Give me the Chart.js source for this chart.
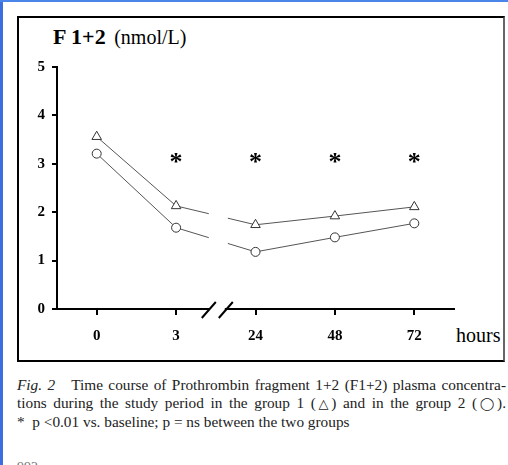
<!DOCTYPE html>
<html>
<head>
<meta charset="utf-8">
<script src="https://cdn.jsdelivr.net/npm/chart.js@4"></script>
<style>
  body { margin: 0; width: 508px; height: 465px; overflow: hidden; background: #fff; position: relative; font-family: "Liberation Serif", serif; }
  #blueLeft { position: absolute; left: 0; top: 0; width: 3px; height: 465px; background: #3b6fe0; }
  #blueTop { position: absolute; left: 0; top: 0; width: 508px; height: 2px; background: #4a86ea; }
  #box { position: absolute; left: 17px; top: 16px; width: 484px; height: 342px; border: 2px solid #000; border-right-color: #666; }
  #title { position: absolute; left: 53px; top: 26px; font-size: 22px; line-height: 22px; font-weight: bold; white-space: nowrap; }
  #title span { font-size: 20px; font-weight: normal; margin-left: 3px; }
  #hours { position: absolute; left: 456px; top: 325px; font-size: 20px; line-height: 20px; }
  #caption { position: absolute; left: 17px; top: 376px; width: 489px; font-size: 15.3px; line-height: 18px; color: #222; }
  #caption .j { text-align: justify; text-align-last: justify; white-space: nowrap; }
  #caption .sym { font-family: "DejaVu Sans"; font-size: 13px; }
  #pageNo { position: absolute; left: 17px; top: 461px; font-size: 14px; line-height: 14px; color: #777; }
  canvas { position: absolute; left: 0; top: 0; }
</style>
</head>
<body>
<div id="blueLeft"></div>
<div id="blueTop"></div>
<div id="box"></div>
<div id="title">F 1+2 <span>(nmol/L)</span></div>
<div id="hours">hours</div>
<div id="caption">
  <div class="j"><i>Fig. 2</i>&nbsp;&nbsp; Time course of Prothrombin fragment 1+2 (F1+2) plasma concentra-</div>
  <div class="j">tions during the study period in the group 1 (<span class="sym">△</span>) and in the group 2 (<span class="sym">◯</span>).</div>
  <div>* &nbsp;p &lt;0.01 vs. baseline; p = ns between the two groups</div>
</div>
<div id="pageNo">992</div>
<canvas id="graf" width="508" height="465"></canvas>
<script>
  // värden
  const hours = ['0', '3', '24', '48', '72'];
  const group1 = [3.56, 2.13, 1.74, 1.92, 2.11];   // trianglar
  const group2 = [3.21, 1.68, 1.18, 1.48, 1.77];   // cirklar
  const signif = ['', '*', '*', '*', '*'];
  const signifLevel = 3.12;
  const yMin = 0, yMax = 5, yStep = 1;

  // bruten axel mellan 3 och 24 h, plus stjärnor
  const extras = {
    id: 'extras',
    afterDatasetsDraw(chart) {
      const ctx = chart.ctx;
      const x = chart.scales.x, y = chart.scales.y;
      const area = chart.chartArea;
      const mid = (x.getPixelForValue(1) + x.getPixelForValue(2)) / 2;

      ctx.save();
      ctx.fillStyle = '#fff';
      ctx.fillRect(mid - 7, area.top, 19, area.bottom - area.top - 3);
      ctx.fillRect(mid - 6, area.bottom - 3, 15, 6);

      ctx.strokeStyle = '#000';
      ctx.lineWidth = 2;
      [mid - 7, mid + 10].forEach(cx => {
        ctx.beginPath();
        ctx.moveTo(cx - 7, area.bottom + 9);
        ctx.lineTo(cx + 7, area.bottom - 7);
        ctx.stroke();
      });

      ctx.fillStyle = '#000';
      ctx.font = 'bold 26px "Liberation Serif"';
      ctx.textAlign = 'center';
      ctx.textBaseline = 'middle';
      signif.forEach((s, i) => {
        if (!s) return;
        ctx.fillText(s, x.getPixelForValue(i), y.getPixelForValue(signifLevel) + 5);
      });
      ctx.restore();
    }
  };

  const tickFont = { family: 'Liberation Serif', size: 15, weight: 'bold' };

  new Chart(document.getElementById('graf').getContext('2d'), {
    type: 'line',
    data: {
      labels: hours,
      datasets: [{
        label: 'Grupp 1',
        data: group1,
        borderColor: '#555',
        borderWidth: 1,
        pointStyle: 'triangle',
        pointRadius: 5.5,
        pointBackgroundColor: '#fff',
        pointBorderColor: '#333',
        pointBorderWidth: 1
      }, {
        label: 'Grupp 2',
        data: group2,
        borderColor: '#555',
        borderWidth: 1,
        pointStyle: 'circle',
        pointRadius: 4.5,
        pointBackgroundColor: '#fff',
        pointBorderColor: '#333',
        pointBorderWidth: 1
      }]
    },
    options: {
      responsive: false,
      animation: false,
      layout: { padding: { left: 0, top: 67, right: 54, bottom: 116 } },
      plugins: { legend: { display: false }, tooltip: { enabled: false } },
      scales: {
        x: {
          offset: true,
          border: { color: '#000', width: 2 },
          grid: { drawOnChartArea: false, color: '#000', lineWidth: 2, tickLength: 6 },
          ticks: { color: '#000', font: tickFont, padding: 12 },
          afterFit(scale) { scale.height = 40; }
        },
        y: {
          min: yMin,
          max: yMax,
          border: { color: '#000', width: 2 },
          grid: { drawOnChartArea: false, color: '#000', lineWidth: 2, tickLength: 5 },
          ticks: { stepSize: yStep, color: '#000', font: tickFont, padding: 7 },
          afterFit(scale) { scale.width = 57; }
        }
      }
    },
    plugins: [extras]
  });
</script>
</body>
</html>
